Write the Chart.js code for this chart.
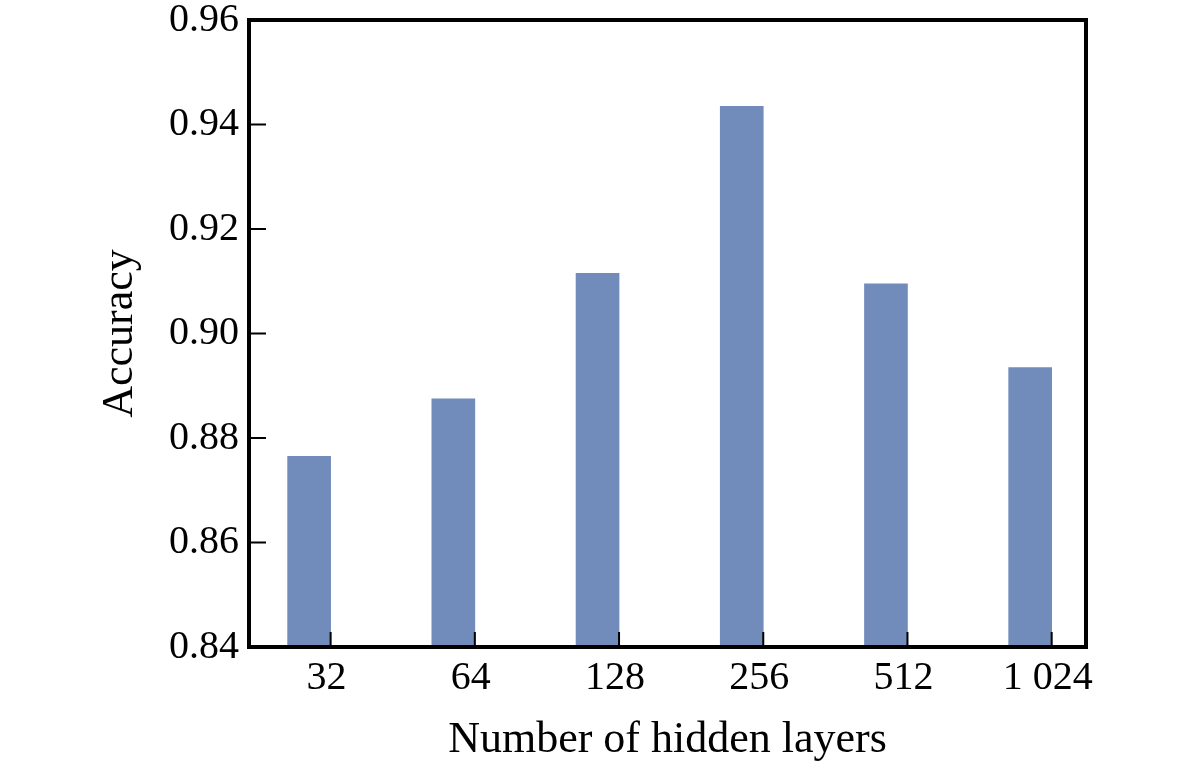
<!DOCTYPE html>
<html>
<head>
<meta charset="utf-8">
<script src="https://cdn.jsdelivr.net/npm/chart.js@4"></script>
<style>
  html, body { margin: 0; padding: 0; background: #ffffff; }
  #wrap { width: 1200px; height: 771px; position: relative; }
</style>
</head>
<body>
<div id="wrap"><canvas id="c"></canvas></div>
<script>
// ---- data ----
const categories = ['32', '64', '128', '256', '512', '1 024'];
const accuracy = [0.8765, 0.8875, 0.9115, 0.9435, 0.9095, 0.8935];
const yTicks = [0.84, 0.86, 0.88, 0.90, 0.92, 0.94, 0.96];
const xTitle = 'Number of hidden layers';
const yTitle = 'Accuracy';

const SERIF = '"Liberation Serif", "Times New Roman", serif';

const framePlugin = {
  id: 'frame',
  afterDatasetsDraw(chart) {
    const { ctx, chartArea: a, scales } = chart;
    ctx.save();
    ctx.strokeStyle = '#000';
    // inward tick marks
    ctx.lineWidth = 2;
    ctx.beginPath();
    scales.x.ticks.forEach(t => {
      const px = scales.x.getPixelForValue(t.value);
      ctx.moveTo(px, a.bottom);
      ctx.lineTo(px, a.bottom - 15);
    });
    scales.y.ticks.forEach(t => {
      const py = scales.y.getPixelForValue(t.value);
      ctx.moveTo(a.left, py);
      ctx.lineTo(a.left + 17, py);
    });
    ctx.stroke();
    // frame
    ctx.lineWidth = 4;
    ctx.strokeRect(a.left, a.top, a.right - a.left, a.bottom - a.top);
    ctx.restore();
  }
};

new Chart(document.getElementById('c'), {
  type: 'bar',
  data: {
    datasets: [
      {
        label: yTitle,
        data: accuracy.map((v, i) => ({ x: i, y: v })),
        backgroundColor: '#718bbb',
        borderWidth: 0,
        barThickness: 43
      },
      {
        label: '',
        data: [],
        barThickness: 43
      }
    ]
  },
  options: {
    responsive: true,
    maintainAspectRatio: false,
    animation: false,
    devicePixelRatio: 1,
    layout: { padding: { top: 20, right: 114, left: 0, bottom: 0 } },
    plugins: { legend: { display: false }, tooltip: { enabled: false } },
    scales: {
      x: {
        type: 'linear',
        offset: false,
        min: -0.566,
        max: 5.238,
        grid: { display: false, drawTicks: false, offset: false },
        border: { display: false },
        afterBuildTicks: (s) => { s.ticks = categories.map((_, i) => ({ value: i })); },
        afterFit: (s) => { s.height = 124; },
        ticks: {
          callback: (v) => categories[v],
          color: '#000',
          font: { family: SERIF, size: 40, lineHeight: 1.2 },
          padding: 7,
          labelOffset: -4,
          maxRotation: 0,
          autoSkip: false
        },
        title: {
          display: true,
          text: xTitle,
          color: '#000',
          font: { family: SERIF, size: 44, lineHeight: 1.2 },
          padding: { top: 0, bottom: 4 }
        }
      },
      y: {
        min: 0.84,
        max: 0.96,
        grid: { display: false, drawTicks: false },
        border: { display: false },
        afterBuildTicks: (s) => { s.ticks = yTicks.map(v => ({ value: v })); },
        afterFit: (s) => { s.width = 249; },
        ticks: {
          callback: (v) => v.toFixed(2),
          color: '#000',
          font: { family: SERIF, size: 40, lineHeight: 0.4 },
          padding: 10
        },
        title: {
          display: true,
          text: yTitle,
          color: '#000',
          font: { family: SERIF, size: 44, lineHeight: 1.2 },
          padding: { top: 94, bottom: 0 }
        }
      }
    }
  },
  plugins: [framePlugin]
});
</script>
</body>
</html>
